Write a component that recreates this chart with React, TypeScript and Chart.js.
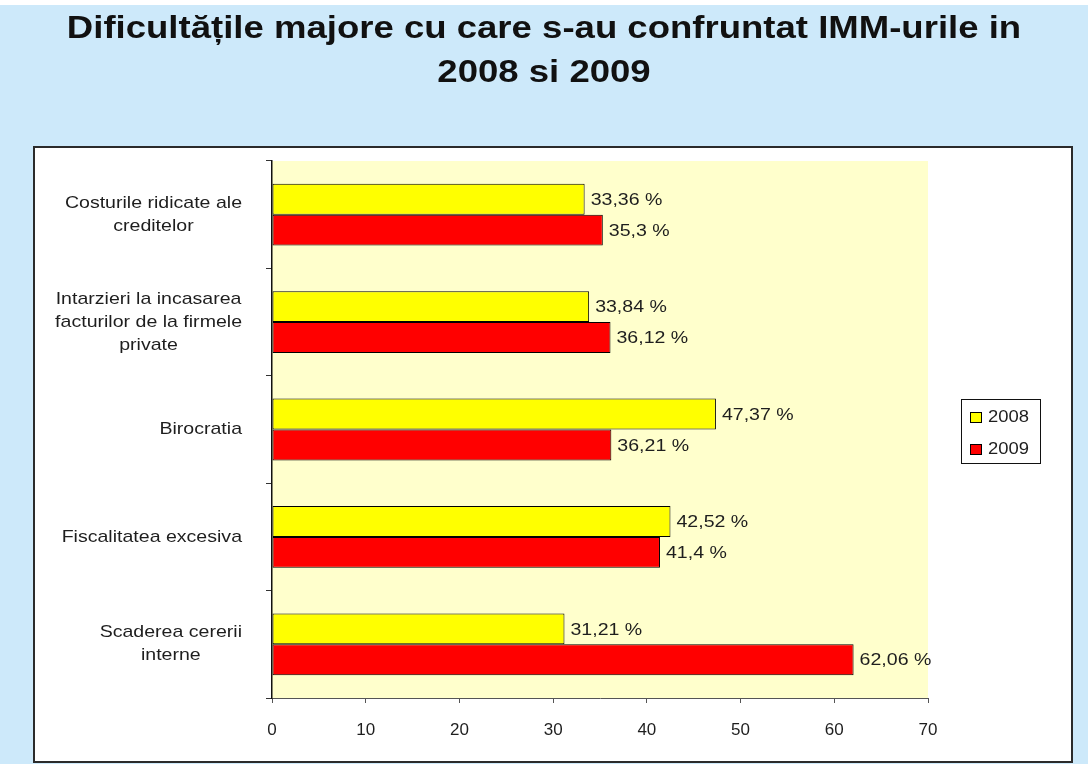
import React, { useEffect, useRef } from "react";
import { Chart, registerables } from "chart.js";

Chart.register(...registerables);

// ---------- data ----------
const titleLines = [
  "Dificultățile majore cu care s-au confruntat IMM-urile in",
  "2008 si 2009",
];
const categories: string[][] = [
  ["Costurile ridicate ale", "creditelor"],
  ["Intarzieri la incasarea", "facturilor de la firmele", "private"],
  ["Birocratia"],
  ["Fiscalitatea excesiva"],
  ["Scaderea cererii", "interne"],
];
const seriesNames = ["2008", "2009"];
const values2008 = [33.36, 33.84, 47.37, 42.52, 31.21];
const values2009 = [35.3, 36.12, 36.21, 41.4, 62.06];
const xMin = 0;
const xMax = 70;
const xStep = 10;

// ---------- styles ----------
const W = 1088;
const H = 764;
const FONT = "'Liberation Sans', Arial, sans-serif";
const SX = 1.15; // horizontal stretch of the original slide text
const TEXT = "#1e1e1e";

const fmt = (v: number) => String(v).replace(".", ",") + " %";

const decorPlugin = {
  id: "decor",
  beforeDraw(chart: any) {
    const ctx = chart.ctx;
    const a = chart.chartArea;
    ctx.save();
    ctx.fillStyle = "#cde9fa";
    ctx.fillRect(0, 0, W, H);
    ctx.fillStyle = "#ffffff";
    ctx.fillRect(0, 0, W, 5);
    // white panel
    ctx.fillStyle = "#ffffff";
    ctx.fillRect(34, 147, 1038, 615);
    ctx.strokeStyle = "#2b2b2b";
    ctx.lineWidth = 2;
    ctx.strokeRect(34, 147, 1038, 615);
    // plot background
    ctx.fillStyle = "#ffffcc";
    ctx.fillRect(a.left, a.top, a.right - a.left, a.bottom - a.top);
    // title
    ctx.fillStyle = "#111111";
    ctx.font = `bold 31.5px ${FONT}`;
    ctx.textAlign = "center";
    ctx.textBaseline = "alphabetic";
    titleLines.forEach((t, i) => {
      ctx.save();
      ctx.translate(W / 2, 38 + i * 44);
      ctx.scale(1.16, 1);
      ctx.fillText(t, 0, 0);
      ctx.restore();
    });
    ctx.restore();
  },
  afterDatasetsDraw(chart: any) {
    const ctx = chart.ctx;
    ctx.save();
    ctx.font = `17px ${FONT}`;
    ctx.fillStyle = TEXT;
    ctx.textAlign = "left";
    ctx.textBaseline = "middle";
    chart.data.datasets.forEach((ds: any, di: number) => {
      const meta = chart.getDatasetMeta(di);
      meta.data.forEach((bar: any, i: number) => {
        ctx.save();
        ctx.translate(bar.x + 6, bar.y + 1);
        ctx.scale(SX, 1);
        ctx.fillText(fmt(ds.data[i]), 0, 0);
        ctx.restore();
      });
    });
    ctx.restore();
  },
  afterDraw(chart: any) {
    const ctx = chart.ctx;
    const ys = chart.scales.y;
    ctx.save();
    // category labels
    ctx.font = `17px ${FONT}`;
    ctx.fillStyle = TEXT;
    ctx.textAlign = "center";
    ctx.textBaseline = "middle";
    const lh = 23;
    categories.forEach((lines, i) => {
      const cy = ys.getPixelForValue(i);
      const bw = Math.max(...lines.map((l) => ctx.measureText(l).width * SX));
      const cx = ys.right - 30 - bw / 2;
      lines.forEach((l, j) => {
        const ly = cy + (j - (lines.length - 1) / 2) * lh;
        ctx.save();
        ctx.translate(cx, ly);
        ctx.scale(SX, 1);
        ctx.fillText(l, 0, 0);
        ctx.restore();
      });
    });
    // legend
    ctx.fillStyle = "#ffffff";
    ctx.fillRect(961, 399, 79, 64);
    ctx.strokeStyle = "#111111";
    ctx.lineWidth = 1;
    ctx.strokeRect(961.5, 399.5, 79, 64);
    ctx.font = `16px ${FONT}`;
    ctx.textAlign = "left";
    chart.data.datasets.forEach((ds: any, di: number) => {
      const cy = 417 + di * 32;
      ctx.fillStyle = ds.backgroundColor;
      ctx.fillRect(970, cy - 5, 11, 10);
      ctx.strokeStyle = "#000000";
      ctx.strokeRect(970.5, cy - 4.5, 11, 10);
      ctx.fillStyle = TEXT;
      ctx.save();
      ctx.translate(988, cy + 1);
      ctx.scale(SX, 1);
      ctx.fillText(ds.label, 0, 0);
      ctx.restore();
    });
    ctx.restore();
  },
};

export default function App() {
  const ref = useRef<HTMLCanvasElement | null>(null);

  useEffect(() => {
    if (!ref.current) return;
    const chart = new Chart(ref.current, {
      type: "bar",
      data: {
        labels: categories.map((c) => c.join(" ")),
        datasets: [
          {
            label: seriesNames[0],
            data: values2008,
            backgroundColor: "#ffff00",
            borderColor: "#000000",
            borderWidth: 1,
            borderSkipped: false,
            categoryPercentage: 0.575,
            barPercentage: 1,
          },
          {
            label: seriesNames[1],
            data: values2009,
            backgroundColor: "#ff0000",
            borderColor: "#000000",
            borderWidth: 1,
            borderSkipped: false,
            categoryPercentage: 0.575,
            barPercentage: 1,
          },
        ],
      },
      options: {
        responsive: false,
        animation: false,
        indexAxis: "y",
        events: [],
        layout: { padding: { left: 0, right: 160, top: 161, bottom: 0 } },
        plugins: {
          legend: { display: false },
          title: { display: false },
          tooltip: { enabled: false },
        },
        scales: {
          x: {
            type: "linear",
            position: "bottom",
            min: xMin,
            max: xMax,
            ticks: {
              stepSize: xStep,
              font: { family: FONT, size: 17 },
              color: TEXT,
              padding: 17,
              maxRotation: 0,
            },
            grid: { drawOnChartArea: false, tickLength: 5, color: "#555555", lineWidth: 1 },
            border: { color: "#555555", width: 1 },
            afterFit: (s: any) => {
              s.height = 66;
            },
          },
          y: {
            type: "category",
            ticks: { display: false },
            grid: { offset: true, drawOnChartArea: false, tickLength: 6, color: "#333333" },
            border: { color: "#111111", width: 1.5 },
            afterFit: (s: any) => {
              s.width = 272;
            },
          },
        },
      } as any,
      plugins: [decorPlugin],
    });
    return () => chart.destroy();
  }, []);

  return (
    <div style={{ position: "absolute", left: 0, top: 0, width: W, height: H }}>
      <canvas ref={ref} width={W} height={H} style={{ display: "block", width: W, height: H }} />
    </div>
  );
}
